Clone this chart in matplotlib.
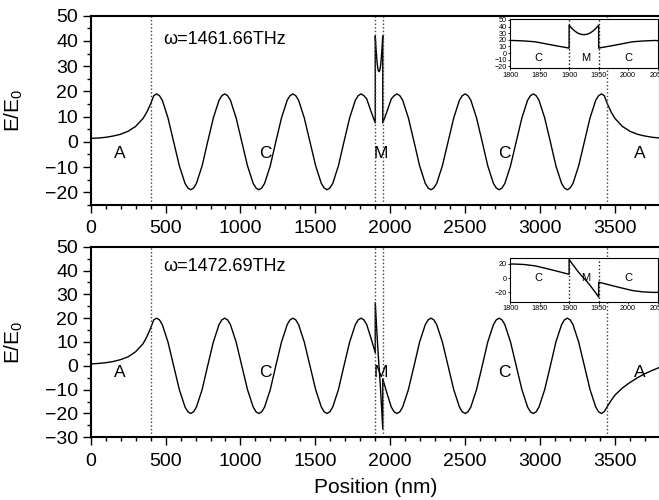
import matplotlib.pyplot as plt
from matplotlib.ticker import MultipleLocator

plt.rcParams['font.family'] = ['Liberation Sans', 'DejaVu Sans']
plt.rcParams['mathtext.default'] = 'regular'

# layer boundaries (nm): air | crystal | metal | crystal | air
boundaries = [400, 1900, 1950, 3450]

# left air + left crystal
pos_left = [0, 50, 100, 150, 200, 250, 300, 350, 375, 400,
            421, 440, 459, 478, 516, 554, 592, 630, 649, 668, 687, 706, 744, 781,
            819, 857, 876, 895, 914, 933, 971, 1009, 1047, 1085, 1104, 1123, 1142, 1161, 1199, 1236,
            1274, 1312, 1331, 1350, 1369, 1388, 1426, 1464, 1502, 1540, 1559, 1578, 1597, 1616, 1654, 1691,
            1729, 1767, 1786, 1805, 1824, 1843, 1872, 1900]
even_left = [1.4, 1.5, 1.8, 2.3, 3.0, 4.2, 6.1, 9.3, 11.8, 15.0,
             18.3, 19.0, 18.3, 16.5, 9.5, 0.0, -9.5, -16.5, -18.3, -19.0, -18.3, -16.5, -9.5, 0.0,
             9.5, 16.5, 18.3, 19.0, 18.3, 16.5, 9.5, 0.0, -9.5, -16.5, -18.3, -19.0, -18.3, -16.5, -9.5, 0.0,
             9.5, 16.5, 18.3, 19.0, 18.3, 16.5, 9.5, 0.0, -9.5, -16.5, -18.3, -19.0, -18.3, -16.5, -9.5, 0.0,
             9.5, 16.5, 18.3, 19.0, 18.3, 17.0, 12.0, 7.5]
odd_left = [0.8, 1.0, 1.3, 1.8, 2.6, 3.8, 5.9, 9.3, 12.2, 15.8,
            19.3, 20.0, 19.3, 17.3, 10.0, 0.0, -10.0, -17.3, -19.3, -20.0, -19.3, -17.3, -10.0, 0.0,
            10.0, 17.3, 19.3, 20.0, 19.3, 17.3, 10.0, 0.0, -10.0, -17.3, -19.3, -20.0, -19.3, -17.3, -10.0, 0.0,
            10.0, 17.3, 19.3, 20.0, 19.3, 17.3, 10.0, 0.0, -10.0, -17.3, -19.3, -20.0, -19.3, -17.3, -10.0, 0.0,
            10.0, 17.3, 19.3, 20.0, 19.3, 17.3, 11.5, 5.5]

# metal layer
pos_metal = [1900, 1905, 1910, 1915, 1920, 1925, 1930, 1935, 1940, 1945, 1950]
even_metal = [42.0, 37.0, 33.0, 30.0, 28.3, 27.8, 28.3, 30.0, 33.0, 37.0, 42.0]
odd_metal = [26.5, 20.5, 15.0, 9.5, 4.5, 0.0, -4.5, -9.5, -15.0, -20.5, -26.5]

# right crystal + right air
pos_right = [1950, 1978, 2007, 2026, 2045, 2064, 2083, 2121,
             2159, 2196, 2234, 2253, 2272, 2291, 2310, 2348, 2386, 2424, 2462, 2481, 2500, 2519, 2538, 2576,
             2614, 2651, 2689, 2708, 2727, 2746, 2765, 2803, 2841, 2879, 2917, 2936, 2955, 2974, 2993, 3031,
             3069, 3106, 3144, 3163, 3182, 3201, 3220, 3258, 3296, 3334, 3372, 3391, 3410, 3429,
             3450, 3475, 3500, 3550, 3600, 3650, 3700, 3750, 3800]
even_right = [7.5, 12.0, 17.0, 18.3, 19.0, 18.3, 16.5, 9.5,
              0.0, -9.5, -16.5, -18.3, -19.0, -18.3, -16.5, -9.5, 0.0, 9.5, 16.5, 18.3, 19.0, 18.3, 16.5, 9.5,
              0.0, -9.5, -16.5, -18.3, -19.0, -18.3, -16.5, -9.5, 0.0, 9.5, 16.5, 18.3, 19.0, 18.3, 16.5, 9.5,
              0.0, -9.5, -16.5, -18.3, -19.0, -18.3, -16.5, -9.5, 0.0, 9.5, 16.5, 18.3, 19.0, 18.3,
              15.0, 11.8, 9.3, 6.1, 4.2, 3.0, 2.3, 1.8, 1.5]
odd_right = [-5.5, -11.5, -17.3, -19.3, -20.0, -19.3, -17.3, -10.0,
             0.0, 10.0, 17.3, 19.3, 20.0, 19.3, 17.3, 10.0, 0.0, -10.0, -17.3, -19.3, -20.0, -19.3, -17.3, -10.0,
             0.0, 10.0, 17.3, 19.3, 20.0, 19.3, 17.3, 10.0, 0.0, -10.0, -17.3, -19.3, -20.0, -19.3, -17.3, -10.0,
             0.0, 10.0, 17.3, 19.3, 20.0, 19.3, 17.3, 10.0, 0.0, -10.0, -17.3, -19.3, -20.0, -19.2,
             -17.0, -14.5, -12.3, -9.3, -7.0, -5.0, -3.3, -1.9, -0.6]

region_names = ['A', 'C', 'M', 'C', 'A']
region_x = [191, 1164, 1936, 2759, 3668]

panels = [
    dict(freq='ω=1461.66THz', field=even_left + even_metal + even_right,
         ylim=(-25, 50), label_y=-4.5, freq_y=40.4,
         rect=[0.1376, 0.5902, 0.8637, 0.3784],
         inset=[0.774, 0.8634, 0.224, 0.0980], inset_ylim=(-23, 51),
         inset_ticks=[-20, -10, 0, 10, 20, 30, 40, 50], inset_label_y=-7),
    dict(freq='ω=1472.69THz', field=odd_left + odd_metal + odd_right,
         ylim=(-30, 50), label_y=-3, freq_y=41.6,
         rect=[0.1376, 0.1254, 0.8637, 0.3812],
         inset=[0.774, 0.3966, 0.224, 0.0868], inset_ylim=(-33, 28),
         inset_ticks=[-20, 0, 20], inset_label_y=0),
]

pos = pos_left + pos_metal + pos_right
dot = (0, (1, 1.6))

fig = plt.figure(figsize=(6.59, 5.0), dpi=100)

for i, p in enumerate(panels):
    ax = fig.add_axes(p['rect'])
    ax.plot(pos, p['field'], color='black', lw=1.0)
    for b in boundaries:
        ax.axvline(b, color='0.25', lw=1.0, ls=dot)
    ax.set_xlim(0, 3800)
    ax.set_ylim(*p['ylim'])
    ax.xaxis.set_major_locator(MultipleLocator(500))
    ax.xaxis.set_minor_locator(MultipleLocator(100))
    ax.yaxis.set_major_locator(MultipleLocator(10))
    ax.yaxis.set_minor_locator(MultipleLocator(5))
    ax.tick_params(which='major', length=6, width=1.0, labelsize=14, pad=3)
    ax.tick_params(which='minor', length=3, width=1.0)
    ax.tick_params(axis='x', which='major', pad=5)
    for s in ax.spines.values():
        s.set_linewidth(1.5)
    ax.set_ylabel('E/E$_0$', fontsize=15)
    ax.yaxis.set_label_coords(-0.115, 0.5)
    if i == 1:
        ax.set_xlabel('Position (nm)', fontsize=15, labelpad=6)

    for name, x in zip(region_names, region_x):
        ax.text(x, p['label_y'], name, fontsize=12.5, ha='center', va='center')
    ax.text(483, p['freq_y'], p['freq'], fontsize=13, ha='left', va='center')

    # zoom on the metal layer
    ins = fig.add_axes(p['inset'])
    ins.plot(pos, p['field'], color='black', lw=1.0)
    for b in boundaries[1:3]:
        ins.axvline(b, color='0.1', lw=1.0, ls=dot)
    ins.set_xlim(1800, 2050)
    ins.set_ylim(*p['inset_ylim'])
    ins.set_xticks([1800, 1850, 1900, 1950, 2000, 2050])
    ins.set_yticks(p['inset_ticks'])
    ins.tick_params(labelsize=5.2, length=1.5, width=0.6, pad=1)
    for s in ins.spines.values():
        s.set_linewidth(0.8)
    for name, x in zip(['C', 'M', 'C'], [1848, 1928, 2000]):
        ins.text(x, p['inset_label_y'], name, fontsize=8, ha='center', va='center')

fig.savefig('out.png', dpi=100)
